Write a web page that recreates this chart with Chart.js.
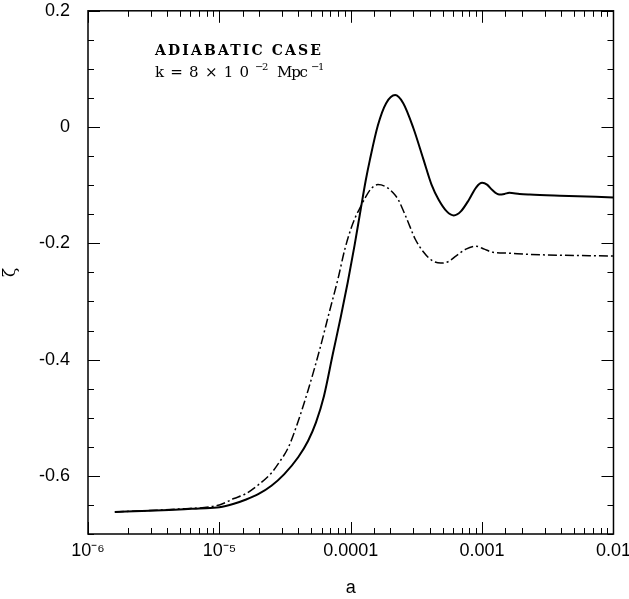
<!DOCTYPE html>
<html>
<head>
<meta charset="utf-8">
<script src="https://cdn.jsdelivr.net/npm/chart.js@4.4.1/dist/chart.umd.min.js"></script>
<style>
  html, body { margin: 0; padding: 0; background: #fff; overflow: hidden; }
  #wrap { width: 629px; height: 609px; margin-top: -10px; }
</style>
</head>
<body>
<div id="wrap"><canvas id="zeta"></canvas></div>
<script>
// scale factor a and zeta
var aSolid = [1.6e-6, 2.94e-6, 4.94e-6, 7.0e-6, 1.0e-5, 1.29e-5, 1.58e-5, 1.99e-5, 2.49e-5, 3.12e-5,
  3.98e-5, 4.73e-5, 5.44e-5, 6.25e-5, 7.31e-5, 8.41e-5, 9.49e-5, 1.07e-4, 1.19e-4, 1.3e-4,
  1.4e-4, 1.61e-4, 1.86e-4, 2.18e-4, 2.51e-4, 3.0e-4, 3.58e-4, 4.12e-4, 4.67e-4, 5.38e-4,
  6.09e-4, 6.89e-4, 7.94e-4, 8.99e-4, 1.0e-3, 1.09e-3, 1.19e-3, 1.35e-3, 1.48e-3, 1.61e-3,
  1.93e-3, 2.3e-3, 3.91e-3, 1e-2];
var zetaSolid = [-0.662, -0.66, -0.658, -0.656, -0.654, -0.648, -0.641, -0.631, -0.617, -0.597,
  -0.568, -0.54, -0.508, -0.463, -0.39, -0.326, -0.267, -0.203, -0.142, -0.092,
  -0.056, 0.003, 0.041, 0.055, 0.041, -0.002, -0.056, -0.099, -0.125, -0.145,
  -0.152, -0.145, -0.125, -0.104, -0.096, -0.099, -0.108, -0.116, -0.115, -0.113,
  -0.115, -0.116, -0.118, -0.121];

var aDash = [1.6e-6, 4.94e-6, 1e-5, 1.29e-5, 1.58e-5, 1.99e-5, 2.49e-5, 2.81e-5, 3.35e-5, 3.98e-5,
  4.73e-5, 5.83e-5, 6.82e-5, 7.98e-5, 9.02e-5, 1e-4, 1.09e-4, 1.19e-4, 1.3e-4, 1.43e-4,
  1.61e-4, 1.86e-4, 2.1e-4, 2.3e-4, 2.65e-4, 3.1e-4, 3.58e-4, 4.12e-4, 4.84e-4, 5.58e-4,
  6.31e-4, 7.53e-4, 8.99e-4, 1.04e-3, 1.19e-3, 1.61e-3, 2.3e-3, 1e-2];
var zetaDash = [-0.662, -0.657, -0.65, -0.639, -0.631, -0.615, -0.595, -0.579, -0.551, -0.506,
  -0.453, -0.381, -0.321, -0.262, -0.21, -0.176, -0.154, -0.137, -0.12, -0.106,
  -0.099, -0.103, -0.113, -0.125, -0.156, -0.193, -0.215, -0.229, -0.234, -0.231,
  -0.222, -0.21, -0.205, -0.21, -0.215, -0.217, -0.219, -0.222];

var xTickValues = [1e-6, 1e-5, 1e-4, 1e-3, 1e-2];
var xTickLabels = ["10\u207B\u2076", "10\u207B\u2075", "0.0001", "0.001", "0.01"];
var yTickValues = [0.2, 0, -0.2, -0.4, -0.6];
var yTickLabels = ["0.2", "0", "-0.2", "-0.4", "-0.6"];

function pts(xs, ys) {
  return xs.map(function (x, i) { return { x: x, y: ys[i] }; });
}
function isMajorX(v) {
  return xTickValues.some(function (t) { return Math.abs(v / t - 1) < 1e-6; });
}
function isMajorY(v) {
  return yTickValues.some(function (t) { return Math.abs(v - t) < 1e-6; });
}
// stretch a string over a given width with letter spacing
function fitText(c, s, x, y, w) {
  c.letterSpacing = "0px";
  var m = c.measureText(s).width;
  c.letterSpacing = ((w - m) / Math.max(1, s.length - 1)) + "px";
  c.fillText(s, x, y);
  c.letterSpacing = "0px";
}

// inward ticks on all four sides, the frame and the annotation
var frameTicks = {
  id: "frameTicks",
  afterDraw: function (chart) {
    var c = chart.ctx, a = chart.chartArea;
    var xs = chart.scales.x, ys = chart.scales.y;
    c.save();
    c.strokeStyle = "#000";
    c.lineWidth = 1.5;
    c.strokeRect(a.left, a.top, a.right - a.left, a.bottom - a.top);
    c.lineWidth = 1;
    c.beginPath();
    xs.ticks.forEach(function (t) {
      var px = Math.round(xs.getPixelForValue(t.value)) + 0.5;
      var len = isMajorX(t.value) ? 12 : 6;
      c.moveTo(px, a.bottom); c.lineTo(px, a.bottom - len);
      c.moveTo(px, a.top); c.lineTo(px, a.top + len);
    });
    ys.ticks.forEach(function (t) {
      var py = Math.round(ys.getPixelForValue(t.value)) + 0.5;
      var len = isMajorY(t.value) ? 12 : 6;
      c.moveTo(a.left, py); c.lineTo(a.left + len, py);
      c.moveTo(a.right, py); c.lineTo(a.right - len, py);
    });
    c.stroke();

    // annotation, placed relative to the top of the plot
    var t0 = a.top;
    c.fillStyle = "#000";
    c.textBaseline = "alphabetic";
    c.font = "bold 14px 'DejaVu Serif'";
    fitText(c, "ADIABATIC CASE", 155, t0 + 44, 166);
    c.font = "15px 'DejaVu Serif'";
    fitText(c, "k=8\u00D710", 155, t0 + 66, 94);
    c.font = "10px 'DejaVu Serif'";
    c.fillText("\u2212", 255, t0 + 59);
    c.fillText("2", 262, t0 + 59);
    c.font = "15px 'DejaVu Serif'";
    fitText(c, "Mpc", 277, t0 + 66, 31);
    c.font = "10px 'DejaVu Serif'";
    c.fillText("\u2212", 311, t0 + 59);
    c.fillText("1", 318, t0 + 59);
    c.restore();
  }
};

var ctx = document.getElementById("zeta");
var myChart = new Chart(ctx, {
  type: "line",
  data: {
    datasets: [
      {
        data: pts(aSolid, zetaSolid),
        borderColor: "#000",
        borderWidth: 2,
        pointRadius: 0,
        cubicInterpolationMode: "monotone",
      },
      {
        data: pts(aDash, zetaDash),
        borderColor: "#000",
        borderWidth: 1.5,
        borderDash: [9, 3, 2, 3],
        pointRadius: 0,
        cubicInterpolationMode: "monotone",
      },
    ],
  },
  options: {
    responsive: true,
    maintainAspectRatio: false,
    animation: false,
    layout: { padding: { left: 0, right: 10, top: 0, bottom: 0 } },
    plugins: { legend: { display: false }, tooltip: { enabled: false } },
    scales: {
      x: {
        type: "logarithmic",
        min: 1e-6,
        max: 1e-2,
        grid: { display: false },
        border: { display: false },
        afterFit: function (s) { s.height = 65; },
        title: {
          display: true,
          text: "a",
          color: "#000",
          font: { family: "'Liberation Sans', Arial", size: 18 },
          padding: { top: 4, bottom: 0 },
        },
        ticks: {
          autoSkip: false,
          maxRotation: 0,
          padding: -2,
          color: "#000",
          font: { family: "'Liberation Sans', Arial", size: 18 },
          callback: function (v) {
            var i = xTickValues.findIndex(function (t) { return Math.abs(v / t - 1) < 1e-6; });
            return i >= 0 ? xTickLabels[i] : "";
          },
        },
      },
      y: {
        min: -0.7,
        max: 0.2,
        grid: { display: false },
        border: { display: false },
        afterFit: function (s) { s.width = 88; },
        title: {
          display: true,
          text: "\u03B6",
          color: "#000",
          font: { family: "'DejaVu Serif'", size: 17 },
          padding: { top: 0, bottom: 14 },
        },
        ticks: {
          stepSize: 0.05,
          autoSkip: false,
          padding: 10,
          color: "#000",
          font: { family: "'Liberation Sans', Arial", size: 18 },
          callback: function (v) {
            var i = yTickValues.findIndex(function (t) { return Math.abs(v - t) < 1e-6; });
            return i >= 0 ? yTickLabels[i] : "";
          },
        },
      },
    },
  },
  plugins: [frameTicks],
});
</script>
</body>
</html>
